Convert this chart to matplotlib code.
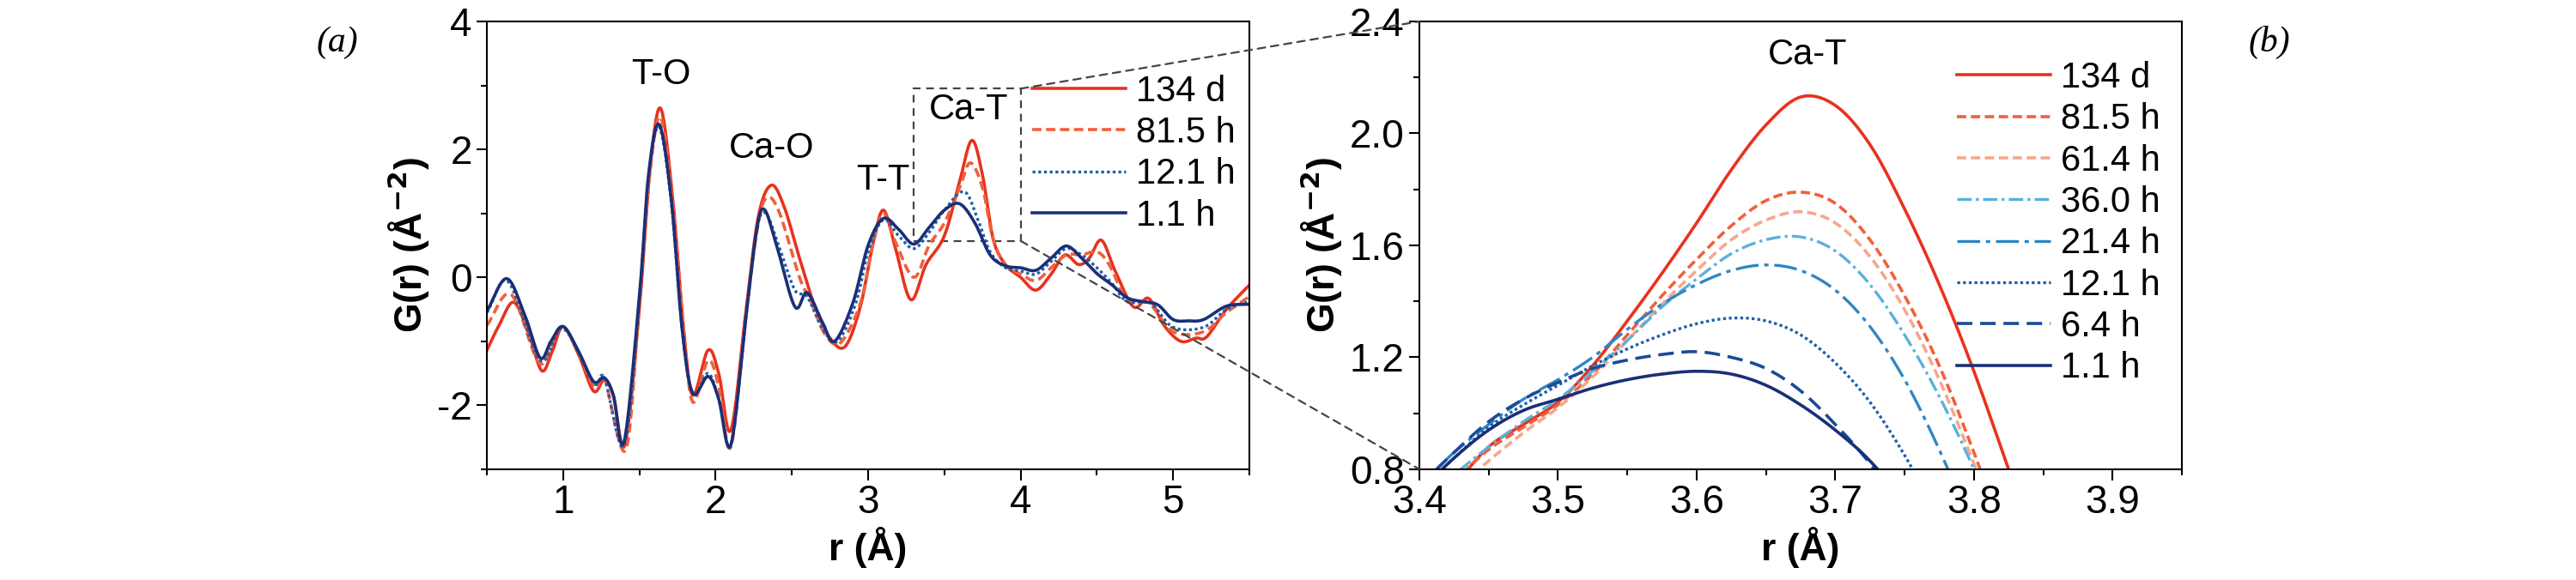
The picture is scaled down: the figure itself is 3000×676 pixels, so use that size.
import numpy as np
import matplotlib
matplotlib.use("Agg")
import matplotlib.pyplot as plt
from matplotlib.patches import ConnectionPatch, Rectangle
from matplotlib.ticker import MultipleLocator, FormatStrFormatter

plt.rcParams["font.family"] = ["Liberation Sans", "DejaVu Sans"]
plt.rcParams["axes.unicode_minus"] = False

# ---- panel (a): G(r) key points ----
r_134d = [0.5, 0.58, 0.675, 0.77, 0.86, 0.93, 1.0, 1.1, 1.2, 1.27, 1.33, 1.405, 1.5, 1.57, 1.64, 1.72,
          1.79, 1.85, 1.95, 2.02, 2.1, 2.2, 2.28, 2.365, 2.45, 2.55, 2.65, 2.75, 2.85, 2.95, 3.03, 3.1,
          3.18, 3.28, 3.38, 3.5, 3.6, 3.68, 3.75, 3.82, 3.9, 4.0, 4.1, 4.2, 4.29, 4.38, 4.45, 4.53,
          4.62, 4.74, 4.84, 4.94, 5.05, 5.15, 5.22, 5.35, 5.5]
g_134d = [-1.14, -0.75, -0.39, -0.85, -1.46, -1.15, -0.77, -1.2, -1.78, -1.6, -1.85, -2.62, -0.5, 1.7, 2.64, 1.2,
          -0.8, -1.84, -1.14, -1.5, -2.39, -0.5, 0.95, 1.44, 1.1, 0.3, -0.45, -0.95, -1.08, -0.45, 0.5, 1.05,
          0.45, -0.35, 0.2, 0.65, 1.5, 2.14, 1.6, 0.6, 0.2, 0.0, -0.2, 0.05, 0.35, 0.2, 0.3, 0.58,
          0.1, -0.46, -0.33, -0.75, -1.0, -0.95, -0.93, -0.5, -0.12]

r_815h = [0.5, 0.66, 0.85, 1.0, 1.2, 1.27, 1.41, 1.5, 1.57, 1.64, 1.72, 1.79, 1.85, 1.95, 2.02, 2.1,
          2.2, 2.28, 2.34, 2.42, 2.55, 2.62, 2.72, 2.82, 2.95, 3.03, 3.1, 3.18, 3.3, 3.4, 3.5, 3.6,
          3.67, 3.75, 3.82, 3.9, 4.0, 4.1, 4.2, 4.3, 4.4, 4.5, 4.58, 4.7, 4.84, 5.0, 5.2, 5.35, 5.5]
g_815h = [-0.75, -0.27, -1.35, -0.77, -1.7, -1.58, -2.7, -0.4, 1.65, 2.5, 1.1, -0.8, -1.95, -1.3, -1.7, -2.65,
          -0.55, 0.85, 1.25, 1.0, 0.0, -0.35, -0.9, -1.02, -0.4, 0.5, 1.0, 0.55, 0.0, 0.5, 0.85, 1.4,
          1.79, 1.4, 0.6, 0.2, 0.05, -0.05, 0.15, 0.35, 0.35, 0.4, 0.2, -0.35, -0.4, -0.85, -0.85, -0.55, -0.3]

r_121h = [0.5, 0.64, 0.85, 1.0, 1.2, 1.27, 1.4, 1.5, 1.56, 1.63, 1.71, 1.78, 1.85, 1.95, 2.02, 2.1,
          2.2, 2.27, 2.33, 2.42, 2.52, 2.6, 2.7, 2.8, 2.92, 3.0, 3.1, 3.2, 3.3, 3.4, 3.5, 3.63,
          3.72, 3.8, 3.9, 4.0, 4.1, 4.2, 4.3, 4.4, 4.5, 4.6, 4.7, 4.85, 5.0, 5.2, 5.35, 5.5]
g_121h = [-0.55, -0.07, -1.3, -0.8, -1.65, -1.57, -2.62, -0.35, 1.55, 2.35, 1.15, -0.8, -1.83, -1.5, -1.9, -2.62,
          -0.6, 0.75, 1.0, 0.45, -0.2, -0.3, -0.8, -1.0, -0.4, 0.4, 0.9, 0.65, 0.45, 0.7, 1.05, 1.34,
          0.9, 0.4, 0.15, 0.1, 0.05, 0.25, 0.45, 0.35, 0.15, -0.1, -0.38, -0.4, -0.78, -0.78, -0.5, -0.38]

r_11h = [0.5, 0.63, 0.75, 0.85, 0.92, 1.0, 1.1, 1.2, 1.27, 1.33, 1.4, 1.5, 1.56, 1.63, 1.71, 1.78,
         1.85, 1.95, 2.02, 2.1, 2.2, 2.27, 2.32, 2.4, 2.52, 2.6, 2.7, 2.78, 2.9, 3.0, 3.1, 3.2,
         3.3, 3.4, 3.5, 3.6, 3.7, 3.8, 3.9, 4.0, 4.1, 4.2, 4.3, 4.4, 4.5, 4.6, 4.7, 4.8,
         4.9, 5.0, 5.1, 5.2, 5.35, 5.5]
g_11h = [-0.53, -0.02, -0.6, -1.26, -1.0, -0.77, -1.15, -1.63, -1.57, -1.85, -2.57, -0.3, 1.6, 2.39, 1.2, -0.8,
         -1.81, -1.55, -1.9, -2.62, -0.6, 0.75, 1.06, 0.5, -0.46, -0.24, -0.7, -1.0, -0.4, 0.5, 0.92, 0.75,
         0.52, 0.78, 1.05, 1.15, 0.85, 0.35, 0.18, 0.15, 0.11, 0.3, 0.49, 0.3, 0.06, -0.12, -0.32, -0.38,
         -0.43, -0.66, -0.68, -0.66, -0.45, -0.42]

# ---- panel (b): Ca-T peak ----
r_zoom = [3.400, 3.425, 3.450, 3.475, 3.500, 3.525, 3.550, 3.575, 3.600, 3.625,
          3.650, 3.675, 3.700, 3.725, 3.750, 3.775, 3.800, 3.825, 3.850]
zoom_labels = ["134 d", "81.5 h", "61.4 h", "36.0 h", "21.4 h", "12.1 h", "6.4 h", "1.1 h"]
zoom_values = [
    [0.60, 0.74, 0.88, 0.96, 1.04, 1.17, 1.33, 1.50, 1.68, 1.87, 2.03, 2.13, 2.10, 1.96, 1.73, 1.46, 1.15, 0.80, 0.45],
    [0.66, 0.76, 0.87, 0.95, 1.03, 1.14, 1.28, 1.42, 1.55, 1.67, 1.76, 1.79, 1.75, 1.62, 1.42, 1.17, 0.86, 0.52, 0.20],
    [0.62, 0.72, 0.83, 0.93, 1.02, 1.13, 1.26, 1.39, 1.51, 1.62, 1.69, 1.72, 1.68, 1.56, 1.37, 1.12, 0.82, 0.50, 0.20],
    [0.68, 0.78, 0.88, 0.97, 1.05, 1.15, 1.26, 1.38, 1.48, 1.57, 1.62, 1.63, 1.58, 1.46, 1.28, 1.06, 0.80, 0.50, 0.20],
    [0.74, 0.86, 0.96, 1.05, 1.12, 1.20, 1.30, 1.39, 1.46, 1.51, 1.53, 1.51, 1.44, 1.31, 1.12, 0.87, 0.58, 0.30, 0.05],
    [0.72, 0.84, 0.95, 1.03, 1.10, 1.17, 1.23, 1.28, 1.32, 1.34, 1.33, 1.28, 1.18, 1.04, 0.85, 0.62, 0.35, 0.10, -0.2],
    [0.74, 0.86, 0.97, 1.05, 1.11, 1.16, 1.19, 1.21, 1.22, 1.20, 1.16, 1.08, 0.96, 0.82, 0.64, 0.42, 0.18, -0.1, -0.4],
    [0.72, 0.84, 0.94, 1.01, 1.05, 1.09, 1.12, 1.14, 1.15, 1.14, 1.10, 1.03, 0.94, 0.83, 0.68, 0.50, 0.30, 0.05, -0.2],
]

STYLES = {
    "134 d":  dict(color="#e8321e", ls="-", lw=2.6),
    "81.5 h": dict(color="#f0603c", ls=(0, (3, 1.5)), lw=2.6),
    "61.4 h": dict(color="#f4a88c", ls=(0, (3, 1.5)), lw=2.6),
    "36.0 h": dict(color="#5ab0dc", ls=(0, (5, 1.5, 1, 1.5)), lw=2.4),
    "21.4 h": dict(color="#2f86c4", ls=(0, (8, 2, 1.5, 2)), lw=2.4),
    "12.1 h": dict(color="#1f5fa8", ls=(0, (1, 1)), lw=2.4),
    "6.4 h":  dict(color="#1a4c96", ls=(0, (5, 2.5)), lw=2.6),
    "1.1 h":  dict(color="#1a2f78", ls="-", lw=2.6),
}


def smooth(x, y, n=20):
    """Catmull-Rom through the read points, only to draw a smooth line."""
    x = np.asarray(x, float); y = np.asarray(y, float)
    px = np.r_[2 * x[0] - x[1], x, 2 * x[-1] - x[-2]]
    py = np.r_[2 * y[0] - y[1], y, 2 * y[-1] - y[-2]]
    xs, ys = [], []
    t = np.linspace(0, 1, n, endpoint=False)
    for i in range(1, len(px) - 2):
        for p, out in ((px, xs), (py, ys)):
            p0, p1, p2, p3 = p[i - 1], p[i], p[i + 1], p[i + 2]
            out.append(0.5 * (2 * p1 + (-p0 + p2) * t + (2 * p0 - 5 * p1 + 4 * p2 - p3) * t ** 2
                              + (-p0 + 3 * p1 - 3 * p2 + p3) * t ** 3))
    xs.append([x[-1]]); ys.append([y[-1]])
    return np.concatenate(xs), np.concatenate(ys)


def style_axis(ax):
    ax.tick_params(which="both", direction="out", width=1.5, labelsize=33)
    ax.tick_params(which="major", length=9)
    ax.tick_params(which="minor", length=5)
    for s in ax.spines.values():
        s.set_linewidth(1.5)


fig = plt.figure(figsize=(30, 6.76), dpi=100)
ax1 = fig.add_axes([0.189, 0.191, 0.296, 0.772])
ax2 = fig.add_axes([0.551, 0.191, 0.296, 0.772])

for lab, r, g in [("134 d", r_134d, g_134d), ("81.5 h", r_815h, g_815h),
                  ("12.1 h", r_121h, g_121h), ("1.1 h", r_11h, g_11h)]:
    xs, ys = smooth(r, g)
    ax1.plot(xs, ys, label=lab, **STYLES[lab])
ax1.set_xlim(0.5, 5.5)
ax1.set_ylim(-3, 4)
ax1.xaxis.set_major_locator(MultipleLocator(1))
ax1.xaxis.set_minor_locator(MultipleLocator(0.5))
ax1.yaxis.set_major_locator(MultipleLocator(2))
ax1.yaxis.set_minor_locator(MultipleLocator(1))
ax1.set_xlabel("r (Å)", fontsize=32, weight="bold")
ax1.set_ylabel("G(r) (Å$^{\\mathbf{-2}}$)", fontsize=32, weight="bold")
style_axis(ax1)
for txt, x, y in [("T-O", 1.64, 2.9), ("Ca-O", 2.37, 1.75), ("T-T", 3.1, 1.25), ("Ca-T", 3.66, 2.35)]:
    ax1.text(x, y, txt, fontsize=30, ha="center", va="bottom")
ax1.legend(loc="upper right", bbox_to_anchor=(1.01, 0.93), frameon=False, fontsize=30,
           handlelength=2.6, labelspacing=0.2, handletextpad=0.3, borderaxespad=0.2)
ax1.add_patch(Rectangle((3.3, 0.57), 0.7, 2.38, fill=False, ls=(0, (4, 3)), lw=1.6, color="#444444"))

for lab, vals in zip(zoom_labels, zoom_values):
    xs, ys = smooth(r_zoom, vals)
    ax2.plot(xs, ys, label=lab, **STYLES[lab])
ax2.set_xlim(3.4, 3.95)
ax2.set_ylim(0.8, 2.4)
ax2.xaxis.set_major_locator(MultipleLocator(0.1))
ax2.xaxis.set_minor_locator(MultipleLocator(0.05))
ax2.yaxis.set_major_locator(MultipleLocator(0.4))
ax2.yaxis.set_minor_locator(MultipleLocator(0.2))
ax2.yaxis.set_major_formatter(FormatStrFormatter("%.1f"))
ax2.set_xlabel("r (Å)", fontsize=32, weight="bold")
ax2.set_ylabel("G(r) (Å$^{\\mathbf{-2}}$)", fontsize=32, weight="bold")
style_axis(ax2)
ax2.text(3.68, 2.22, "Ca-T", fontsize=30, ha="center", va="bottom")
ax2.legend(loc="upper right", bbox_to_anchor=(1.0, 0.96), frameon=False, fontsize=30,
           handlelength=2.6, labelspacing=0.2, handletextpad=0.3, borderaxespad=0.2)

for yA, yB in [(2.95, 2.4), (0.57, 0.8)]:
    fig.add_artist(ConnectionPatch(xyA=(4.0, yA), coordsA=ax1.transData,
                                   xyB=(3.4, yB), coordsB=ax2.transData,
                                   ls=(0, (4, 3)), lw=1.6, color="#444444"))

fig.text(0.123, 0.955, "(a)", fontsize=30, style="italic", family="Liberation Serif", va="top")
fig.text(0.873, 0.955, "(b)", fontsize=30, style="italic", family="Liberation Serif", va="top")

fig.savefig("out.png", dpi=100)
